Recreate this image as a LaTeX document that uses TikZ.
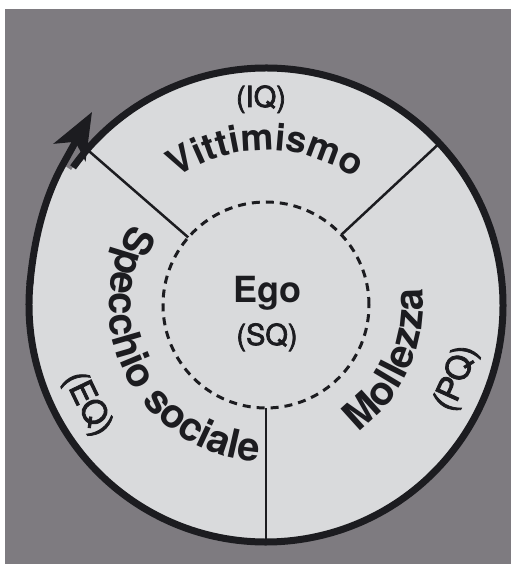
\documentclass[tikz,border=0pt]{standalone}
\usepackage{fontspec}
\setmainfont{TeX Gyre Heros}
\newfontfamily\medfont[FakeBold=2.5]{TeX Gyre Heros}
\usetikzlibrary{decorations.text,arrows.meta}
\definecolor{bggray}{HTML}{7E7B80}
\definecolor{light}{HTML}{D9DADC}
\definecolor{ink}{HTML}{1C1C20}
\newcommand\bigbold{\fontsize{40}{40}\selectfont\bfseries}
\newcommand\topbold{\fontsize{37}{37}\selectfont\bfseries}
\newcommand\smallreg{\medfont\fontsize{29}{29}\selectfont}
\newcommand\sidereg{\medfont\fontsize{33}{33}\selectfont}
\tikzset{
  ring/.style={draw=ink, line width=7pt},
  divider/.style={draw=ink, line width=2.5pt},
  arclabel/.style={decorate, decoration={text along path, text align=center, text color=ink}},
}
\begin{document}
\begin{tikzpicture}[x=1pt,y=1pt]
\useasboundingbox (-266,-259) rectangle (245,305);
\fill[white] (-266,-259) rectangle (245,305);
\fill[bggray] (-261,-259) rectangle (245,296);
% outer disc
\node[circle, fill=light, minimum size=474pt, inner sep=0pt, outer sep=0pt] (outer) at (0,0) {};
\coordinate (S) at (175:237);
\coordinate (A) at (-203.1,140.5);
\coordinate (T) at (-174,193);
\fill[light] (S) .. controls (-232.5,61.5) and (-223,104.6) .. (A) -- (0,0) -- cycle;
% inner dashed circle
\node[circle, draw=ink, line width=3pt, dash pattern=on 8pt off 6pt, minimum size=206pt, inner sep=0pt, outer sep=0pt] (inner) at (0,0) {};
% dividers
\draw[divider] (inner.139) -- (outer.139);
\draw[divider] (inner.43) -- (outer.43);
\draw[divider] (inner.270) -- (outer.270);
% ring with arrow
\draw[ring] (144.5:237) arc[start angle=144.5, end angle=-186, radius=237];
\draw[ring, -{Stealth[length=46pt, width=36pt, inset=12pt]}] (S) .. controls (-232.5,61.5) and (-223,104.6) .. (A) -- (T);
% curved labels
\path[arclabel, decoration={text={|\topbold|Vittimismo}}] (150:155) arc[start angle=150, end angle=30, radius=155];
\path[arclabel, decoration={text={|\bigbold|Specchio sociale}}] (138:157) arc[start angle=138, end angle=278, radius=157];
\path[arclabel, decoration={text={|\sidereg|(EQ)}}] (170:214) arc[start angle=170, end angle=248, radius=214];
\path[arclabel, decoration={text={|\bigbold|Mollezza}}] (-70:157) arc[start angle=-70, end angle=22, radius=157];
\path[arclabel, decoration={text={|\sidereg|(PQ)}}] (-60:214) arc[start angle=-60, end angle=18, radius=214];
% straight labels
\node[font=\smallreg, text=ink, anchor=base, inner sep=0pt] (iq) at (-5,198) {(IQ)};
\node[font=\fontsize{36}{36}\selectfont\bfseries, text=ink, anchor=base, inner sep=0pt] (ego) at (1.5,2) {Ego};
\node[font=\smallreg, text=ink, anchor=base, inner sep=0pt] (sq) at (1,-40) {(SQ)};
\end{tikzpicture}
\end{document}
